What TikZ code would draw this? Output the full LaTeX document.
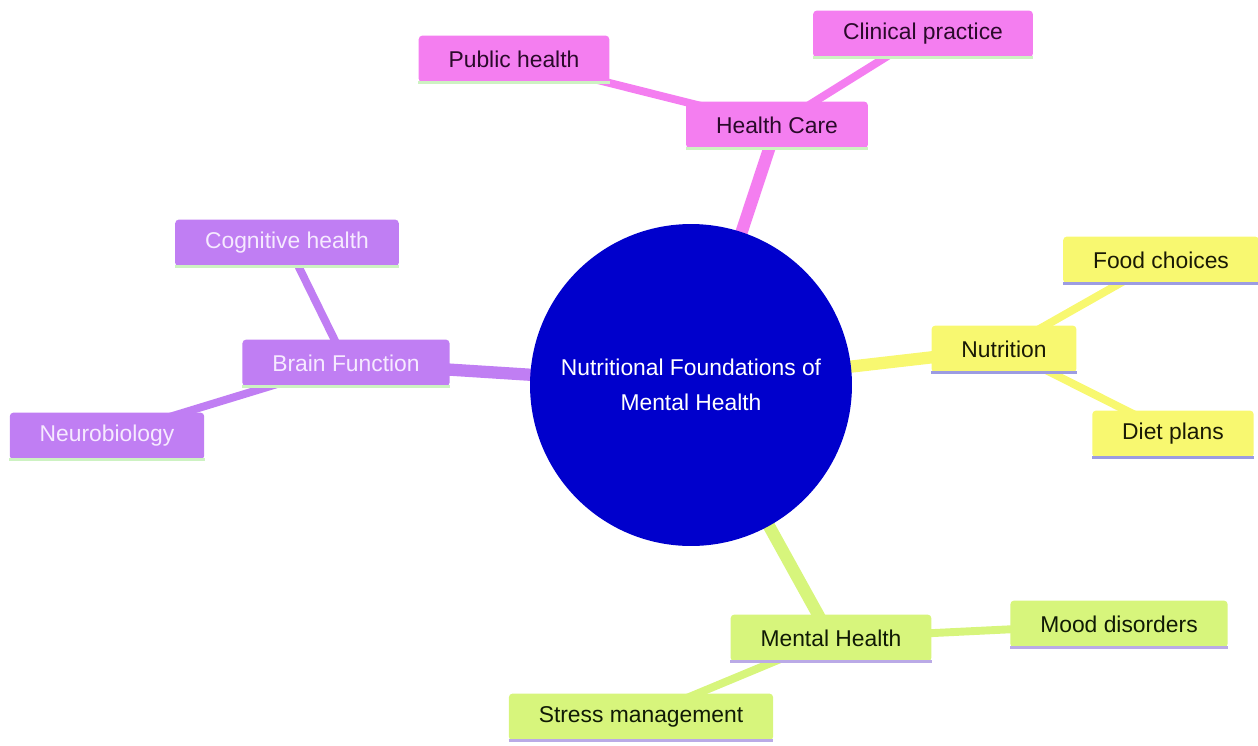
\documentclass[tikz,border=0pt]{standalone}
\usepackage{fontspec}
\setmainfont{Liberation Sans}
\usepackage{xcolor}
\definecolor{mm-blau}{HTML}{0000CC}
\definecolor{mm-rosa}{HTML}{F47EF0}
\definecolor{mm-rosa-text}{HTML}{2A0A2A}
\definecolor{mm-lila}{HTML}{C07EF3}
\definecolor{mm-lila-text}{HTML}{F6EAFF}
\definecolor{mm-gelb}{HTML}{F8F870}
\definecolor{mm-gelb-text}{HTML}{1A1A05}
\definecolor{mm-gruen}{HTML}{D7F57C}
\definecolor{mm-gruen-text}{HTML}{101A05}
\definecolor{mm-hellgruen}{HTML}{CDF2C2}
\definecolor{mm-lavendel}{HTML}{9C9CE2}
\definecolor{mm-hellviolett}{HTML}{BAAAE6}
\pgfdeclarelayer{background}
\pgfsetlayers{background,main}

\begin{document}
\begin{tikzpicture}[x=0.02cm,y=-0.02cm,
    topic/.style n args={3}{rectangle, rounded corners=2pt, fill=#1, text=#2,
      minimum height=26.6pt, inner xsep=17pt, inner ysep=2pt,
      font=\fontsize{13}{16}\selectfont,
      append after command={(\tikzlastnode.south west) edge[draw=#3, line width=2pt, rounded corners=0pt] (\tikzlastnode.south east)}},
    ast/.style={line width=7pt, draw=#1},
    zweig/.style={line width=4.5pt, draw=#1}]
    \useasboundingbox (0,0) rectangle (1258,745);
    \node[circle, fill=mm-blau, minimum size=6.44cm, text=white, align=center,
      font=\fontsize{13}{20}\selectfont] (root) at (691,385) {Nutritional Foundations of\\Mental Health};

    \node[topic={mm-rosa}{mm-rosa-text}{mm-hellgruen}] (care) at (777,125) {Health Care};
    \node[topic={mm-rosa}{mm-rosa-text}{mm-hellgruen}] (public) at (514,59) {Public health};
    \node[topic={mm-rosa}{mm-rosa-text}{mm-hellgruen}] (clinic) at (923,34) {Clinical practice};

    \node[topic={mm-lila}{mm-lila-text}{mm-hellgruen}] (brain) at (346,363) {Brain Function};
    \node[topic={mm-lila}{mm-lila-text}{mm-hellgruen}] (cogn) at (287,243) {Cognitive health};
    \node[topic={mm-lila}{mm-lila-text}{mm-hellgruen}] (neuro) at (107,436) {Neurobiology};

    \node[topic={mm-gelb}{mm-gelb-text}{mm-lavendel}] (nutri) at (1004,349) {Nutrition};
    \node[topic={mm-gelb}{mm-gelb-text}{mm-lavendel}] (food) at (1161,260) {Food choices};
    \node[topic={mm-gelb}{mm-gelb-text}{mm-lavendel}] (diet) at (1173,434) {Diet plans};

    \node[topic={mm-gruen}{mm-gruen-text}{mm-hellviolett}] (mental) at (831,638) {Mental Health};
    \node[topic={mm-gruen}{mm-gruen-text}{mm-hellviolett}] (mood) at (1119,624) {Mood disorders};
    \node[topic={mm-gruen}{mm-gruen-text}{mm-hellviolett}] (stress) at (641,717) {Stress management};

    \begin{pgfonlayer}{background}
      \draw[ast=mm-rosa] (root.center) -- (care.center);
      \draw[ast=mm-lila] (root.center) -- (brain.center);
      \draw[ast=mm-gelb] (root.center) -- (nutri.center);
      \draw[ast=mm-gruen] (root.center) -- (mental.center);
      \draw[zweig=mm-rosa] (care.center) -- (public.center);
      \draw[zweig=mm-rosa] (care.center) -- (clinic.center);
      \draw[zweig=mm-lila] (brain.center) -- (cogn.center);
      \draw[zweig=mm-lila] (brain.center) -- (neuro.center);
      \draw[zweig=mm-gelb] (nutri.center) -- (food.center);
      \draw[zweig=mm-gelb] (nutri.center) -- (diet.center);
      \draw[zweig=mm-gruen] (mental.center) -- (mood.center);
      \draw[zweig=mm-gruen] (mental.center) -- (stress.center);
    \end{pgfonlayer}
  \end{tikzpicture}
\end{document}
